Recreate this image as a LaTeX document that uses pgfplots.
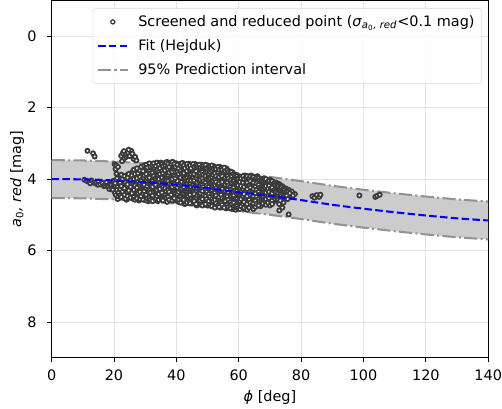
\documentclass[border={4pt 0pt 0pt 0pt}]{standalone}
\usepackage{pgfplots}
\usepackage{pgfplotstable}
\usepackage{amsmath}
\usepackage{fontspec}
\setmainfont{DejaVu Sans}
\pgfplotsset{compat=1.18}
\usepgfplotslibrary{fillbetween}

\definecolor{ptedge}{HTML}{3A3A3A}
\definecolor{bandfill}{HTML}{CCCCCC}
\definecolor{bandedge}{HTML}{939393}
\definecolor{gridc}{HTML}{E3E3E3}

\pgfplotsset{
    long line legend/.style={legend image code/.code={\draw[##1] (0cm,0cm) -- (0.76cm,0cm);}},
    mark legend/.style={legend image code/.code={\draw[##1] plot coordinates {(0.38cm,0cm)};}},
}

% screened and reduced points (phi [deg], a0 red [mag])
\pgfplotstableread{
x y
10.5 4.02
11.2 4.05
12.0 4.08
12.4 4.12
12.8 4.04
13.5 4.10
14.2 4.12
14.8 4.16
15.0 4.07
15.6 4.15
16.3 4.11
16.8 4.20
17.0 4.18
17.3 4.13
17.6 4.09
18.2 4.22
18.5 4.28
18.8 4.14
19.0 4.18
19.3 4.25
19.6 4.30
19.8 4.05
11.5 3.21
13.3 3.28
13.8 3.37
20.2 3.58
20.5 3.72
20.7 3.62
20.8 3.85
20.8 4.05
21.0 3.98
21.1 4.22
20.4 4.12
20.3 4.38
20.9 4.30
20.6 4.45
21.2 4.56
21.4 4.48
21.5 4.38
21.3 3.66
22.3 3.35
22.8 3.28
23.2 3.22
23.6 3.40
24.0 3.30
24.5 3.26
25.0 3.36
25.5 3.21
25.9 3.29
26.3 3.44
26.8 3.38
27.2 3.48
23.0 3.45
24.7 3.18
22.6 3.50
22 3.92
22 4.10
22 4.28
22 4.45
23 3.98
23 4.18
23 4.35
23 4.52
23 4.05
24 3.90
24 4.02
24 4.22
24 4.40
24 4.58
25 3.85
25 4.12
25 4.30
25 4.48
25 3.95
26 3.80
26 3.96
26 4.08
26 4.25
26 4.38
26 4.55
27 3.78
27 3.92
27 4.15
27 4.33
27 4.46
28 3.72
28 3.88
28 4.02
28 4.20
28 4.42
28 4.60
29 3.70
29 3.85
29 4.10
29 4.28
29 4.50
30 3.65
30 3.80
30 3.95
30 4.12
30 4.36
30 4.55
31 3.62
31 3.90
31 4.05
31 4.22
31 4.44
31 4.62
32 3.60
32 3.75
32 3.98
32 4.15
32 4.30
32 4.52
33 3.58
33 3.70
33 3.86
33 4.08
33 4.25
33 4.40
33 4.58
34 3.55
34 3.68
34 3.92
34 4.18
34 4.35
34 4.62
35 3.54
35 3.72
35 3.88
35 4.02
35 4.28
35 4.48
36 3.56
36 3.66
36 3.82
36 4.00
36 4.14
36 4.38
36 4.56
37 3.52
37 3.64
37 3.78
37 3.95
37 4.22
37 4.42
37 4.64
38 3.55
38 3.70
38 3.90
38 4.08
38 4.32
38 4.50
39 3.53
39 3.62
39 3.84
39 4.05
39 4.26
39 4.46
39 4.60
40 3.56
40 3.74
40 3.96
40 4.12
40 4.34
40 4.55
41 3.58
41 3.68
41 3.88
41 4.04
41 4.20
41 4.40
41 4.62
42 3.55
42 3.76
42 3.92
42 4.15
42 4.30
42 4.52
42 4.66
43 3.60
43 3.70
43 3.86
43 4.00
43 4.24
43 4.45
43 4.58
44 3.57
44 3.80
44 3.98
44 4.18
44 4.36
44 4.60
45 3.62
45 3.74
45 3.90
45 4.10
45 4.28
45 4.48
45 4.68
46 3.58
46 3.68
46 3.84
46 4.06
46 4.22
46 4.42
46 4.62
47 3.64
47 3.80
47 3.96
47 4.14
47 4.34
47 4.55
47 4.72
48 3.60
48 3.72
48 3.92
48 4.08
48 4.26
48 4.50
48 4.66
49 3.66
49 3.86
49 4.02
49 4.20
49 4.40
49 4.62
50 3.62
50 3.76
50 3.94
50 4.16
50 4.32
50 4.54
50 4.74
51 3.68
51 3.82
51 4.00
51 4.24
51 4.46
51 4.70
52 3.64
52 3.78
52 3.96
52 4.12
52 4.30
52 4.52
52 4.76
53 3.70
53 3.88
53 4.06
53 4.22
53 4.44
53 4.66
54 3.66
54 3.84
54 4.02
54 4.18
54 4.38
54 4.60
54 4.80
55 3.72
55 3.90
55 4.10
55 4.28
55 4.50
55 4.72
56 3.70
56 3.86
56 4.04
56 4.24
56 4.42
56 4.64
56 4.82
57 3.78
57 3.96
57 4.14
57 4.34
57 4.56
57 4.76
58 3.82
58 4.00
58 4.20
58 4.40
58 4.62
58 4.84
59 3.88
59 4.08
59 4.26
59 4.48
59 4.70
59 4.86
60 3.92
60 4.12
60 4.32
60 4.54
60 4.78
61 3.96
61 4.16
61 4.38
61 4.60
61 4.82
62 3.90
62 4.06
62 4.24
62 4.44
62 4.66
62 4.84
63 3.94
63 4.12
63 4.30
63 4.50
63 4.72
64 3.90
64 4.08
64 4.26
64 4.46
64 4.62
64 4.78
65 3.96
65 4.14
65 4.34
65 4.54
65 4.74
66 3.92
66 4.10
66 4.28
66 4.48
66 4.68
67 4.00
67 4.18
67 4.38
67 4.58
67 4.76
68 3.98
68 4.16
68 4.32
68 4.52
68 4.70
69 4.04
69 4.22
69 4.42
69 4.62
70 4.02
70 4.20
70 4.36
70 4.56
70 4.74
71 4.08
71 4.26
71 4.46
71 4.64
72 4.10
72 4.30
72 4.48
72 4.60
73 4.14
73 4.34
73 4.52
73 4.70
73 4.88
74 4.20
74 4.38
74 4.56
74 4.80
75 4.26
75 4.40
75 4.52
76 4.30
76 4.45
76 4.99
77 4.35
77 4.50
78 4.42
28.5 3.80
28.5 4.30
30.5 3.72
30.5 4.48
32.5 3.85
32.5 4.40
34.5 3.62
34.5 4.05
34.5 4.50
36.5 3.74
36.5 4.30
38.5 3.62
38.5 4.18
38.5 4.40
40.5 3.66
40.5 4.02
40.5 4.48
42.5 3.84
42.5 4.22
42.5 4.60
44.5 3.68
44.5 4.06
44.5 4.52
46.5 3.74
46.5 4.32
46.5 4.74
48.5 3.82
48.5 4.14
48.5 4.58
50.5 3.70
50.5 4.06
50.5 4.40
52.5 3.86
52.5 4.26
52.5 4.62
54.5 3.76
54.5 4.12
54.5 4.48
56.5 3.92
56.5 4.32
56.5 4.70
58.5 3.96
58.5 4.52
60.5 4.04
60.5 4.46
60.5 4.70
62.5 4.00
62.5 4.36
64.5 4.18
64.5 4.56
66.5 4.02
66.5 4.40
68.5 4.10
68.5 4.46
70.5 4.14
70.5 4.50
83.6 4.48
84.3 4.52
85.0 4.45
85.8 4.50
86.2 4.44
98.7 4.46
103.8 4.50
104.4 4.47
105.2 4.44
22.35 3.88
22.35 4.20
22.35 4.50
22.7 4.00
22.7 4.36
23.35 3.92
23.35 4.26
23.35 4.44
23.7 4.10
23.7 4.55
24.35 3.96
24.35 4.15
24.35 4.48
24.7 3.86
24.7 4.32
25.35 4.04
25.35 4.22
25.35 4.52
25.7 3.90
25.7 4.40
26.35 3.74
26.35 4.00
26.35 4.30
26.35 4.50
26.7 3.86
26.7 4.18
26.7 4.58
27.35 3.70
27.35 3.98
27.35 4.24
27.35 4.54
27.7 3.84
27.7 4.08
27.7 4.40
28.35 3.76
28.35 3.94
28.35 4.12
28.35 4.36
28.35 4.56
28.7 3.66
28.7 4.06
28.7 4.48
29.35 3.78
29.35 3.96
29.35 4.20
29.35 4.40
29.35 4.58
29.7 3.62
29.7 3.90
29.7 4.16
29.7 4.34
30.35 3.60
30.35 3.86
30.35 4.04
30.35 4.26
30.35 4.44
30.35 4.60
30.7 3.68
30.7 3.98
30.7 4.20
30.7 4.54
31.35 3.56
31.35 3.78
31.35 3.96
31.35 4.14
31.35 4.32
31.35 4.52
31.7 3.66
31.7 3.84
31.7 4.10
31.7 4.38
31.7 4.58
32.35 3.62
32.35 3.82
32.35 4.06
32.35 4.22
32.35 4.46
32.35 4.62
32.7 3.56
32.7 3.92
32.7 4.12
32.7 4.36
33.35 3.64
33.35 3.80
33.35 3.98
33.35 4.16
33.35 4.34
33.35 4.54
33.7 3.54
33.7 3.76
33.7 4.02
33.7 4.30
33.7 4.48
34.35 3.60
34.35 3.80
34.35 4.00
34.35 4.24
34.35 4.42
34.35 4.58
34.7 3.70
34.7 3.86
34.7 4.12
34.7 4.28
35.35 3.58
35.35 3.78
35.35 3.96
35.35 4.16
35.35 4.38
35.35 4.56
35.7 3.64
35.7 3.84
35.7 4.06
35.7 4.22
35.7 4.60
36.35 3.60
36.35 3.76
36.35 3.92
36.35 4.08
36.35 4.26
36.35 4.46
36.7 3.54
36.7 3.88
36.7 4.04
36.7 4.34
36.7 4.52
37.35 3.58
37.35 3.72
37.35 3.88
37.35 4.06
37.35 4.30
37.35 4.50
37.7 3.66
37.7 3.82
37.7 4.14
37.7 4.36
37.7 4.58
38.35 3.58
38.35 3.76
38.35 3.98
38.35 4.16
38.35 4.26
38.35 4.44
38.7 3.52
38.7 3.80
38.7 4.00
38.7 4.22
38.7 4.60
39.35 3.58
39.35 3.72
39.35 3.92
39.35 4.14
39.35 4.36
39.35 4.54
39.7 3.66
39.7 3.80
39.7 3.98
39.7 4.20
39.7 4.40
40.35 3.60
40.35 3.78
40.35 3.90
40.35 4.06
40.35 4.24
40.35 4.42
40.35 4.62
40.7 3.70
40.7 3.86
40.7 4.16
40.7 4.36
40.7 4.58
41.35 3.62
41.35 3.78
41.35 3.96
41.35 4.12
41.35 4.30
41.35 4.50
41.35 4.66
41.7 3.56
41.7 3.84
41.7 4.08
41.7 4.26
41.7 4.56
42.35 3.62
42.35 3.84
42.35 4.00
42.35 4.22
42.35 4.40
42.35 4.58
42.7 3.70
42.7 3.96
42.7 4.10
42.7 4.34
42.7 4.70
43.35 3.58
43.35 3.78
43.35 3.94
43.35 4.12
43.35 4.32
43.35 4.52
43.35 4.66
43.7 3.66
43.7 3.88
43.7 4.06
43.7 4.28
43.7 4.48
44.35 3.62
44.35 3.74
44.35 3.90
44.35 4.10
44.35 4.26
44.35 4.44
44.35 4.68
44.7 3.70
44.7 3.86
44.7 4.04
44.7 4.22
44.7 4.56
45.35 3.58
45.35 3.82
45.35 3.98
45.35 4.18
45.35 4.38
45.35 4.58
45.7 3.66
45.7 3.86
45.7 4.04
45.7 4.24
45.7 4.42
45.7 4.62
46.35 3.64
46.35 3.78
46.35 3.96
46.35 4.14
46.35 4.32
46.35 4.52
46.35 4.70
46.7 3.60
46.7 3.90
46.7 4.10
46.7 4.26
46.7 4.46
47.35 3.60
47.35 3.72
47.35 3.88
47.35 4.06
47.35 4.24
47.35 4.44
47.35 4.64
47.7 3.68
47.7 3.84
47.7 4.02
47.7 4.20
47.7 4.40
47.7 4.60
48.35 3.66
48.35 3.80
48.35 3.98
48.35 4.16
48.35 4.34
48.35 4.56
48.35 4.74
48.7 3.62
48.7 3.88
48.7 4.06
48.7 4.22
48.7 4.44
49.35 3.60
49.35 3.74
49.35 3.92
49.35 4.10
49.35 4.28
49.35 4.48
49.35 4.70
49.7 3.70
49.7 3.82
49.7 4.00
49.7 4.18
49.7 4.36
49.7 4.56
50.35 3.66
50.35 3.86
50.35 4.02
50.35 4.22
50.35 4.42
50.35 4.62
50.7 3.64
50.7 3.80
50.7 3.98
50.7 4.12
50.7 4.30
50.7 4.50
50.7 4.72
51.35 3.62
51.35 3.76
51.35 3.94
51.35 4.14
51.35 4.34
51.35 4.56
51.35 4.76
51.7 3.70
51.7 3.88
51.7 4.06
51.7 4.20
51.7 4.40
51.7 4.62
52.35 3.68
52.35 3.84
52.35 4.02
52.35 4.18
52.35 4.38
52.35 4.58
52.35 4.80
52.7 3.72
52.7 3.92
52.7 4.08
52.7 4.26
52.7 4.46
52.7 4.68
53.35 3.66
53.35 3.80
53.35 3.98
53.35 4.16
53.35 4.34
53.35 4.54
53.35 4.74
53.7 3.74
53.7 3.94
53.7 4.12
53.7 4.30
53.7 4.50
53.7 4.78
54.35 3.70
54.35 3.88
54.35 4.06
54.35 4.24
54.35 4.44
54.35 4.66
54.7 3.74
54.7 3.92
54.7 4.08
54.7 4.28
54.7 4.54
54.7 4.72
55.35 3.68
55.35 3.82
55.35 4.00
55.35 4.18
55.35 4.36
55.35 4.58
55.35 4.80
55.7 3.78
55.7 3.96
55.7 4.16
55.7 4.34
55.7 4.62
56.35 3.74
56.35 3.92
56.35 4.10
56.35 4.30
56.35 4.48
56.35 4.72
56.7 3.80
56.7 3.98
56.7 4.18
56.7 4.38
56.7 4.58
56.7 4.78
57.35 3.84
57.35 4.04
57.35 4.22
57.35 4.44
57.35 4.64
57.35 4.82
57.7 3.80
57.7 3.92
57.7 4.10
57.7 4.28
57.7 4.48
57.7 4.70
58.35 3.86
58.35 4.06
58.35 4.24
58.35 4.46
58.35 4.66
58.35 4.80
58.7 3.90
58.7 4.12
58.7 4.32
58.7 4.56
58.7 4.76
59.35 3.92
59.35 4.14
59.35 4.34
59.35 4.56
59.35 4.76
59.7 3.98
59.7 4.18
59.7 4.40
59.7 4.62
59.7 4.82
60.35 3.94
60.35 4.08
60.35 4.26
60.35 4.40
60.35 4.62
60.35 4.84
60.7 3.98
60.7 4.20
60.7 4.36
60.7 4.56
60.7 4.76
61.35 3.92
61.35 4.10
61.35 4.28
61.35 4.48
61.35 4.70
61.7 4.00
61.7 4.22
61.7 4.42
61.7 4.64
61.7 4.80
62.35 3.96
62.35 4.14
62.35 4.32
62.35 4.52
62.35 4.74
62.7 3.92
62.7 4.10
62.7 4.28
62.7 4.48
62.7 4.70
62.7 4.86
63.35 3.98
63.35 4.18
63.35 4.38
63.35 4.58
63.35 4.80
63.7 3.92
63.7 4.06
63.7 4.24
63.7 4.44
63.7 4.66
64.35 3.96
64.35 4.14
64.35 4.32
64.35 4.52
64.35 4.72
64.7 3.94
64.7 4.10
64.7 4.28
64.7 4.48
64.7 4.68
64.7 4.84
65.35 4.00
65.35 4.20
65.35 4.40
65.35 4.60
65.35 4.78
65.7 3.96
65.7 4.12
65.7 4.30
65.7 4.50
65.7 4.70
66.35 3.98
66.35 4.16
66.35 4.36
66.35 4.56
66.35 4.74
66.7 4.04
66.7 4.24
66.7 4.44
66.7 4.62
67.35 4.02
67.35 4.22
67.35 4.42
67.35 4.64
67.7 4.06
67.7 4.26
67.7 4.46
67.7 4.68
68.35 4.04
68.35 4.24
68.35 4.40
68.35 4.60
68.7 4.00
68.7 4.20
68.7 4.38
68.7 4.56
68.7 4.72
69.35 4.08
69.35 4.28
69.35 4.48
69.35 4.66
69.7 4.06
69.7 4.18
69.7 4.36
69.7 4.54
70.35 4.10
70.35 4.28
70.35 4.44
70.35 4.62
70.7 4.06
70.7 4.24
70.7 4.40
70.7 4.60
70.7 4.70
71.35 4.12
71.35 4.32
71.35 4.52
71.7 4.16
71.7 4.36
71.7 4.56
72.35 4.16
72.35 4.36
72.35 4.54
72.7 4.20
72.7 4.40
72.7 4.58
73.35 4.22
73.35 4.42
73.35 4.60
73.7 4.24
73.7 4.46
74.35 4.28
74.35 4.48
74.35 4.66
74.7 4.30
74.7 4.50
75.35 4.34
75.35 4.46
75.7 4.36
75.7 4.56
76.35 4.40
77.35 4.46
}\pointdata

% Hejduk fit and 95% prediction interval
\pgfplotstableread{
x fit up lo
0   4.00 3.47 4.53
10  4.01 3.48 4.54
20  4.04 3.51 4.57
30  4.09 3.56 4.62
40  4.16 3.63 4.69
50  4.26 3.73 4.79
60  4.37 3.84 4.90
70  4.47 3.94 5.00
80  4.59 4.06 5.12
90  4.72 4.19 5.25
100 4.83 4.30 5.36
110 4.93 4.40 5.46
120 5.02 4.49 5.55
130 5.10 4.57 5.63
140 5.16 4.63 5.69
}\fitdata

\begin{document}
\begin{tikzpicture}
\begin{axis}[
    scale only axis,
    width=4.40in,
    height=3.60in,
    xmin=0, xmax=140,
    ymin=-1, ymax=9,
    y dir=reverse,
    xtick={0,20,...,140},
    ytick={0,2,4,6,8},
    grid=major,
    major grid style={gridc, line width=0.6pt},
    tick align=outside,
    tick pos=left,
    major tick length=3.5pt,
    every tick/.style={black, line width=0.6pt},
    axis line style={black, line width=0.6pt},
    clip mode=individual,
    clip marker paths=true,
    /pgf/number format/assume math mode=true,
    ticklabel style={font=\fontsize{10.5}{12.5}\selectfont},
    xticklabel style={yshift=-2pt, inner xsep=0pt},
    yticklabel style={xshift=-4pt},
    label style={font=\fontsize{10.5}{12.5}\selectfont},
    xlabel={\textit{ϕ} [deg]},
    ylabel={\textit{a}$_{\textrm{0}}$\textit{, red} [mag]},
    xlabel style={yshift=0pt},
    ylabel style={yshift=-4.5pt},
    legend style={
        at={(0.985,0.978)}, anchor=north east,
        draw=black!15, rounded corners=2pt,
        fill=white, fill opacity=0.8, text opacity=1,
        font=\fontsize{10.5}{12.5}\selectfont,
        row sep=4pt, column sep=5pt, inner sep=3pt,
    },
    legend cell align=left,
]

\addlegendimage{only marks, mark=o, mark size=1.5pt, draw=ptedge, line width=0.9pt, mark legend}
\addlegendentry{Screened and reduced point (\textit{σ}$_{\textit{a}_{\textrm{0}}\textit{, red}}${<}0.1 mag)}
\addlegendimage{blue, line width=1.5pt, dash pattern=on 5.5pt off 2.4pt, long line legend}
\addlegendentry{Fit (Hejduk)}
\addlegendimage{bandedge, line width=1.5pt, dash pattern=on 9.6pt off 2.4pt on 1.5pt off 2.4pt, long line legend}
\addlegendentry{95\% Prediction interval}

\addplot[name path=up, draw=none, forget plot] table[x=x, y=up] {\fitdata};
\addplot[name path=lo, draw=none, forget plot] table[x=x, y=lo] {\fitdata};
\addplot[bandfill, forget plot] fill between[of=up and lo];
\addplot[bandedge, line width=1.5pt, dash pattern=on 9.6pt off 2.4pt on 1.5pt off 2.4pt, forget plot] table[x=x, y=up] {\fitdata};
\addplot[bandedge, line width=1.5pt, dash pattern=on 9.6pt off 2.4pt on 1.5pt off 2.4pt, forget plot] table[x=x, y=lo] {\fitdata};

\addplot[only marks, mark=*, mark size=1.5pt,
    mark options={draw=ptedge, fill=white, line width=1.3pt}, forget plot]
    table[x=x, y=y] {\pointdata};

\addplot[blue, line width=1.5pt, dash pattern=on 5.5pt off 2.4pt, smooth, forget plot]
    table[x=x, y=fit] {\fitdata};

\end{axis}
\end{tikzpicture}
\end{document}
